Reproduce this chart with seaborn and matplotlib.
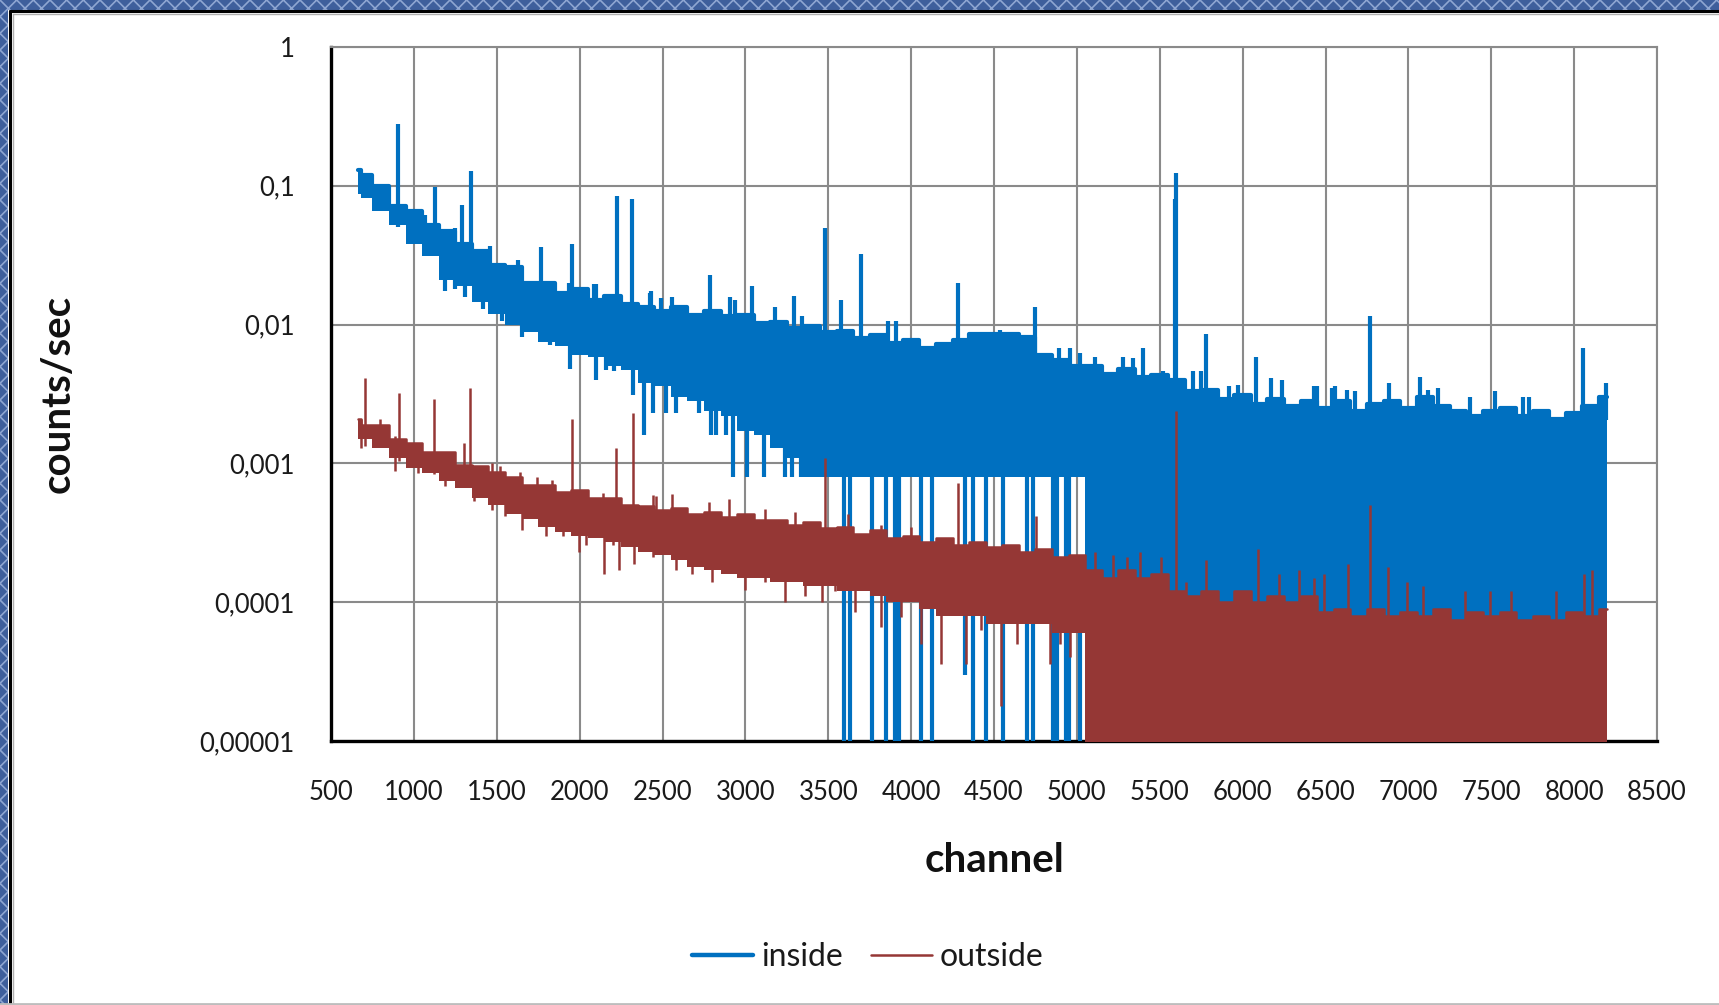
import numpy as np
import matplotlib
matplotlib.use("Agg")
import matplotlib.pyplot as plt
from matplotlib.lines import Line2D
from matplotlib.patches import Rectangle
from matplotlib.ticker import FixedLocator, FixedFormatter, MultipleLocator, LogLocator, NullFormatter
import seaborn as sns

# ---------------------------------------------------------------- data
# sampling channels for the spectrum envelopes (every 100 channels)
channels = [660] + list(range(700, 8201, 100))

# inside: upper / lower edge of the dense spectrum trace (counts/sec)
inside_top = [
    0.130, 0.120, 0.100, 0.072, 0.066, 0.052, 0.047, 0.038, 0.034, 0.027,
    0.026, 0.020, 0.020, 0.017, 0.018, 0.015, 0.016, 0.014, 0.0135, 0.0125,
    0.0135, 0.0118, 0.0125, 0.0115, 0.0118, 0.0102, 0.0105, 0.0095, 0.0098, 0.0088,
    0.0090, 0.0080, 0.0084, 0.0074, 0.0077, 0.0068, 0.0072, 0.0078, 0.0086, 0.0086,
    0.0086, 0.0082, 0.0060, 0.0056, 0.0050, 0.0050, 0.0044, 0.0048, 0.0042, 0.0043,
    0.0040, 0.0033, 0.0034, 0.0029, 0.0031, 0.0027, 0.0029, 0.0026, 0.0028, 0.0025,
    0.0028, 0.0024, 0.0027, 0.0028, 0.0025, 0.0030, 0.0026, 0.0024, 0.0022, 0.0024,
    0.0025, 0.0022, 0.0024, 0.0021, 0.0023, 0.0026, 0.0030,
]
inside_bottom = [
    0.088, 0.082, 0.066, 0.052, 0.038, 0.031, 0.021, 0.019, 0.0145, 0.012,
    0.0100, 0.0088, 0.0075, 0.0070, 0.0060, 0.0058, 0.0050, 0.0047, 0.0038, 0.0036,
    0.0030, 0.0028, 0.0024, 0.0022, 0.0017, 0.0016, 0.0013, 0.0011, 0.0008,
    0.0008, 0.0008, 0.0008, 0.0008, 0.0008, 0.0008, 0.0008, 0.0008, 0.0008, 0.0008,
    0.0008, 0.0008, 0.0008, 0.0008, 0.0008, 0.0008,
    0, 0, 0, 0, 0, 0, 0, 0, 0, 0, 0, 0, 0, 0, 0, 0,
    0, 0, 0, 0, 0, 0, 0, 0, 0, 0, 0, 0, 0, 0, 0, 0,
]
# inside: single channels rising above the trace
inside_peak_ch = [905, 1067, 1128, 1251, 1290, 1347, 1410, 1460, 1629, 1765,
                  1937, 1957, 2089, 2099, 2224, 2319, 2423, 2430, 2490, 2560,
                  2786, 2910, 2940, 3040, 3180, 3294, 3340, 3480, 3576, 3700,
                  3860, 3910, 4280, 4536, 4750, 4890, 4960, 5020, 5110, 5280,
                  5340, 5400, 5520, 5590, 5600, 5700, 5750, 5780, 5920, 5970,
                  6080, 6170, 6240, 6430, 6450, 6540, 6560, 6630, 6680, 6766,
                  6886, 7070, 7120, 7180, 7370, 7520, 7690, 7730, 8054, 8110,
                  8190]
inside_peak_val = [0.28, 0.062, 0.098, 0.050, 0.073, 0.128, 0.034, 0.037, 0.029, 0.036,
                   0.020, 0.038, 0.0196, 0.0196, 0.085, 0.081, 0.017, 0.0176, 0.0155, 0.0157,
                   0.0229, 0.0157, 0.0150, 0.019, 0.0135, 0.016, 0.0115, 0.050, 0.015, 0.032,
                   0.0107, 0.0107, 0.020, 0.0092, 0.0134, 0.0068, 0.0068, 0.0062, 0.0058, 0.0058,
                   0.0057, 0.0068, 0.0046, 0.081, 0.123, 0.0046, 0.0046, 0.0086, 0.0036, 0.0037,
                   0.0058, 0.0041, 0.0040, 0.0036, 0.0036, 0.0035, 0.0036, 0.0034, 0.0033, 0.0116,
                   0.0038, 0.0042, 0.0034, 0.0035, 0.0030, 0.0033, 0.0030, 0.0030, 0.0068, 0.0025,
                   0.0038]
# inside: single channels falling below the trace (0 = no counts)
inside_dip_ch = [1185, 1250, 1307, 1418, 1530, 1650, 1820, 1940, 2100, 2160,
                 2210, 2320, 2390, 2440, 2520, 2580, 2720, 2790, 2820, 2884,
                 2924, 3010, 3110, 3240, 3284, 3336, 3390, 3420, 3597, 3630,
                 3762, 3848, 3904, 3928, 4060, 4126, 4325, 4371, 4450, 4556,
                 4702, 4735, 4854, 4880, 4934, 4950, 5020, 5053]
inside_dip_val = [0.0175, 0.018, 0.0158, 0.013, 0.0107, 0.0082, 0.0071, 0.0048, 0.0040, 0.0047,
                  0.0046, 0.0031, 0.0016, 0.0023, 0.0023, 0.0023, 0.0023, 0.0016, 0.0016, 0.0016,
                  0.0008, 0.0008, 0.0008, 0.0008, 0.0008, 0.0008, 0.0008, 0.0008, 0, 0,
                  0, 0, 0, 0, 0, 0, 0.00003, 0, 0, 0,
                  0, 0, 0, 0, 0, 0, 0, 0]

# outside: upper / lower edge of the dense spectrum trace (counts/sec)
outside_top = [
    0.0021, 0.0019, 0.0019, 0.0015, 0.0014, 0.0012, 0.0012, 0.00098, 0.00095, 0.00086,
    0.00080, 0.00070, 0.00070, 0.00062, 0.00064, 0.00056, 0.00056, 0.00050, 0.00049, 0.00046,
    0.00048, 0.00043, 0.00045, 0.00041, 0.00043, 0.00039, 0.00039, 0.00036, 0.00038, 0.00034,
    0.00035, 0.00031, 0.00033, 0.00029, 0.00030, 0.00027, 0.00029, 0.00026, 0.00027, 0.00025,
    0.00026, 0.00023, 0.00024, 0.00021, 0.00022, 0.00017, 0.00015, 0.00017, 0.00015, 0.00016,
    0.00012, 0.00011, 0.00012, 0.00010, 0.00012, 0.00010, 0.00011, 0.00010, 0.00011, 0.000085,
    0.00009, 0.00008, 0.00009, 0.00008, 0.000085, 0.00008, 0.00009, 0.000075, 0.000085, 0.00008,
    0.000085, 0.000075, 0.00008, 0.000075, 0.000085, 0.00008, 0.00009,
]
outside_bottom = [
    0.0015, 0.0015, 0.0013, 0.0011, 0.00093, 0.00085, 0.00075, 0.00066, 0.00056, 0.00050,
    0.00043, 0.00040, 0.00035, 0.00032, 0.00030, 0.00029, 0.00027, 0.00025, 0.00023, 0.00022,
    0.00020, 0.00018, 0.00017, 0.00016, 0.00015, 0.00015, 0.00014, 0.00014, 0.00013, 0.00013,
    0.00012, 0.00012, 0.00011, 0.00010, 0.00010, 0.00009, 0.00008, 0.00008, 0.00008, 0.00007,
    0.00007, 0.00007, 0.00007, 0.00006, 0.00006,
    0, 0, 0, 0, 0, 0, 0, 0, 0, 0, 0, 0, 0, 0, 0, 0,
    0, 0, 0, 0, 0, 0, 0, 0, 0, 0, 0, 0, 0, 0, 0, 0,
]
outside_peak_ch = [708, 794, 908, 1026, 1123, 1208, 1300, 1340, 1470, 1520,
                   1640, 1740, 1836, 1957, 2040, 2140, 2220, 2323, 2443, 2460,
                   2560, 2780, 2900, 3120, 3300, 3480, 3620, 3820, 4000, 4280,
                   4754, 5110, 5220, 5300, 5380, 5510, 5600, 5660, 5780, 6090,
                   6220, 6340, 6430, 6490, 6634, 6770, 6880, 6990, 7090, 7340,
                   7490, 7620, 7890, 8060, 8110]
outside_peak_val = [0.0041, 0.0021, 0.0032, 0.0013, 0.0029, 0.0012, 0.0014, 0.0035, 0.0010, 0.00095,
                    0.00087, 0.00080, 0.00076, 0.0021, 0.00063, 0.00061, 0.0013, 0.0023, 0.00059, 0.00058,
                    0.00060, 0.00053, 0.00055, 0.00047, 0.00045, 0.0011, 0.00043, 0.00036, 0.00035, 0.00072,
                    0.00042, 0.00023, 0.00022, 0.00021, 0.00023, 0.00021, 0.0024, 0.00014, 0.00020, 0.00024,
                    0.00016, 0.00017, 0.00015, 0.00016, 0.00019, 0.0005, 0.00018, 0.00014, 0.00013, 0.00012,
                    0.00012, 0.00012, 0.00012, 0.00016, 0.00017]
outside_dip_ch = [682, 885, 1026, 1188, 1360, 1470, 1550, 1650, 1795, 1897,
                  1994, 2040, 2150, 2200, 2240, 2330, 2440, 2580, 2680, 2800,
                  3000, 3120, 3240, 3360, 3460, 3540, 3660, 3820, 3940, 4060,
                  4180, 4330, 4420, 4540, 4640, 4840, 4900, 4960]
outside_dip_val = [0.0013, 0.00088, 0.00085, 0.00069, 0.00054, 0.00046, 0.00042, 0.00033, 0.00030, 0.00030,
                   0.00023, 0.00026, 0.00016, 0.00026, 0.00017, 0.00019, 0.00021, 0.00017, 0.00016, 0.00014,
                   0.000122, 0.00014, 0.00010, 0.00011, 0.00010, 0.00012, 0.000085, 0.000066, 0.000078, 0.00005,
                   0.000036, 0.000036, 0.000063, 0.000018, 0.00005, 0.000036, 0.00005, 0.00004]

x_ticks = [500, 1000, 1500, 2000, 2500, 3000, 3500, 4000, 4500, 5000,
           5500, 6000, 6500, 7000, 7500, 8000, 8500]
y_ticks = [1e-5, 1e-4, 1e-3, 1e-2, 1e-1, 1]
y_tick_labels = ["0,00001", "0,0001", "0,001", "0,01", "0,1", "1"]

series_names = ["inside", "outside"]
series_colors = ["#0070C0", "#953735"]

# ---------------------------------------------------------------- style
sns.set_style("white")
plt.rcParams["font.family"] = ["Lato", "DejaVu Sans"]

W, H = 1719, 1005
fig = plt.figure(figsize=(W / 100, H / 100), dpi=100)
fig.patch.set_facecolor("white")

L, R, T, B = 331, 1657, 47, 741
ax = fig.add_axes([L / W, 1 - B / H, (R - L) / W, (B - T) / H])
ax.set_yscale("log", nonpositive="clip")
ax.set_xlim(500, 8500)
ax.set_ylim(1e-5, 1)

FLOOR = 1e-7  # zero-count channels fall below the axis floor


def floor(vals):
    v = np.asarray(vals, dtype=float)
    return np.where(v > 0, v, FLOOR)


def draw_series(ch, top, bottom, pk_ch, pk_val, dp_ch, dp_val, color, lw, z):
    ch = np.asarray(ch, dtype=float)
    top_f, bot_f = floor(top), floor(bottom)
    ax.fill_between(ch, bot_f, top_f, step="mid", color=color, lw=0, zorder=z)
    sns.lineplot(x=ch, y=top_f, ax=ax, color=color, lw=lw, drawstyle="steps-mid",
                 zorder=z, legend=False)
    # channels standing above the trace
    base_top = np.exp(np.interp(pk_ch, ch, np.log(top_f)))
    ax.vlines(pk_ch, base_top * 0.7, pk_val, color=color, lw=lw, zorder=z)
    # channels falling below the trace
    base_bot = np.exp(np.interp(dp_ch, ch, np.log(bot_f)))
    ax.vlines(dp_ch, floor(dp_val), np.maximum(base_bot, floor(dp_val)) * 1.4,
              color=color, lw=lw, zorder=z)


draw_series(channels, inside_top, inside_bottom, inside_peak_ch, inside_peak_val,
            inside_dip_ch, inside_dip_val, series_colors[0], 3.0, 3)
draw_series(channels, outside_top, outside_bottom, outside_peak_ch, outside_peak_val,
            outside_dip_ch, outside_dip_val, series_colors[1], 1.8, 4)

# ---------------------------------------------------------------- axes
grid_c = "#8a8a8a"
ax.xaxis.set_major_locator(FixedLocator(x_ticks))
ax.xaxis.set_minor_locator(MultipleLocator(100))
ax.yaxis.set_major_locator(FixedLocator(y_ticks))
ax.yaxis.set_major_formatter(FixedFormatter(y_tick_labels))
ax.yaxis.set_minor_locator(LogLocator(base=10, subs=np.arange(2, 10)))
ax.yaxis.set_minor_formatter(NullFormatter())
ax.grid(True, which="major", color=grid_c, lw=1.5)
ax.set_axisbelow(True)

for s in ("top", "right"):
    ax.spines[s].set_color(grid_c)
    ax.spines[s].set_linewidth(1.5)
for s in ("left", "bottom"):
    ax.spines[s].set_color("black")
    ax.spines[s].set_linewidth(2.4)

ax.tick_params(axis="x", which="major", direction="out", length=6, width=2.2,
               color="black", pad=22, labelsize=18.5, labelcolor="#1a1a1a")
ax.tick_params(axis="x", which="minor", direction="out", length=6, width=2.0, color="black")
ax.tick_params(axis="y", which="major", direction="out", length=7, width=2.2,
               color="black", pad=19, labelsize=18.5, labelcolor="#1a1a1a")
ax.tick_params(axis="y", which="minor", direction="out", length=4, width=1.8, color="black")

ax.set_xlabel("channel", fontsize=29, fontweight="bold", color="#111111")
ax.xaxis.set_label_coords(0.5, (B - 860) / (B - T))
ax.xaxis.label.set_va("center")
ax.set_ylabel("counts/sec", fontsize=29, fontweight="bold", color="#111111")
ax.yaxis.set_label_coords((58 - L) / (R - L), 0.5)
ax.yaxis.label.set_va("center")

handles = [Line2D([], [], color=series_colors[0], lw=3.2),
           Line2D([], [], color=series_colors[1], lw=1.8)]
fig.legend(handles, series_names, loc="center", bbox_to_anchor=(868 / W, 1 - 957 / H),
           ncol=2, frameon=False, fontsize=23, handlelength=1.9, handletextpad=0.25,
           columnspacing=0.9, labelcolor="#1a1a1a")

# ---------------------------------------------------------------- window frame
tr = fig.transFigure
plt.rcParams["hatch.linewidth"] = 1.2
for rect in [(0, 1 - 10 / H, 1, 10 / H), (0, 0, 8 / W, 1)]:
    fig.patches.append(Rectangle(rect[:2], rect[2], rect[3], transform=tr,
                                 facecolor="#3e5f9c", edgecolor="#8ea6d2",
                                 hatch="xx", lw=0, zorder=10))
fig.lines.append(Line2D([9.5 / W, 1], [1 - 11 / H, 1 - 11 / H], transform=tr,
                        color="black", lw=2.2, zorder=11))
fig.lines.append(Line2D([9.5 / W, 9.5 / W], [0, 1 - 11 / H], transform=tr,
                        color="black", lw=2.2, zorder=11))
fig.lines.append(Line2D([12.5 / W, 1], [1 - 14 / H, 1 - 14 / H], transform=tr,
                        color="#b0b0b0", lw=1, zorder=11))
fig.lines.append(Line2D([12.5 / W, 12.5 / W], [0, 1 - 14 / H], transform=tr,
                        color="#b0b0b0", lw=1, zorder=11))
fig.lines.append(Line2D([0, 1], [1.5 / H, 1.5 / H], transform=tr,
                        color="#bdbdbd", lw=2, zorder=11))

fig.savefig("out.png", dpi=100, facecolor="white")
